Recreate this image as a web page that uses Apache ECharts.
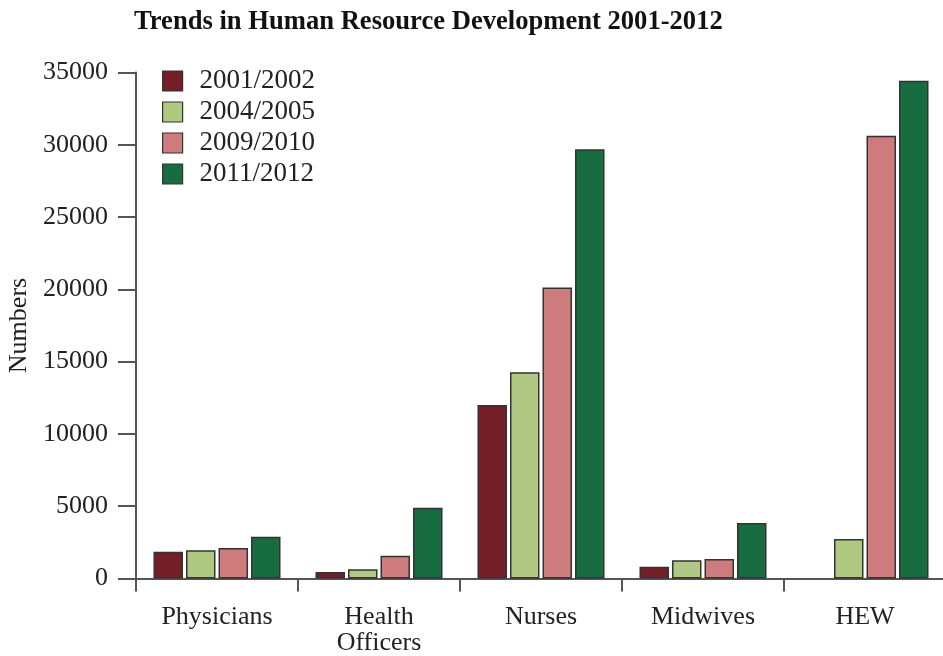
<!DOCTYPE html>
<html>
<head>
<meta charset="utf-8">
<script src="https://cdn.jsdelivr.net/npm/echarts@6/dist/echarts.min.js"></script>
<style>html,body{margin:0;padding:0;background:#fff}#c{width:943px;height:656px}</style>
</head>
<body>
<div id="c"></div>
<script>
const categories = ['Physicians', 'Health\nOfficers', 'Nurses', 'Midwives', 'HEW'];
const seriesNames = ['2001/2002', '2004/2005', '2009/2010', '2011/2012'];
const v2001 = [1850, 450, 12000, 820, null];
const v2004 = [1950, 640, 14260, 1260, 2730];
const v2009 = [2110, 1580, 20120, 1350, 30630];
const v2011 = [2890, 4900, 29690, 3840, 34430];
const yTicks = [0, 5000, 10000, 15000, 20000, 25000, 30000, 35000];
const colors = ['#741f28', '#afc982', '#cd7b7c', '#176c40'];

const FONT = "'Liberation Serif', 'DejaVu Serif', serif";
const values = [v2001, v2004, v2009, v2011];

const chart = echarts.init(document.getElementById('c'), null, {renderer: 'canvas'});
chart.setOption({
  animation: false,
  backgroundColor: '#ffffff',
  title: {
    text: 'Trends in Human Resource Development 2001-2012',
    left: 129, top: 4,
    textStyle: {fontFamily: FONT, fontWeight: 'bold', fontSize: 26.6, color: '#111'}
  },
  legend: {
    orient: 'vertical', left: 162, top: 67.5, padding: 0,
    itemWidth: 20, itemHeight: 20, itemGap: 4,
    icon: 'rect',
    itemStyle: {borderColor: '#333', borderWidth: 1.2},
    textStyle: {fontFamily: FONT, fontSize: 27, color: '#222', padding: [0, 0, 0, 12]},
    data: seriesNames
  },
  grid: {left: 136, top: 72.5, width: 810, height: 506, outerBoundsMode: 'none', containLabel: false},
  xAxis: {
    type: 'category',
    data: categories,
    axisLine: {lineStyle: {color: '#555', width: 2}},
    axisTick: {show: true, length: 13, lineStyle: {color: '#555', width: 2}},
    axisLabel: {fontFamily: FONT, fontSize: 26, color: '#222', margin: 26, lineHeight: 26, interval: 0}
  },
  yAxis: {
    type: 'value', min: 0, max: 35000, interval: 5000,
    name: 'Numbers', nameLocation: 'middle', nameGap: 100, nameRotate: 90,
    nameTextStyle: {fontFamily: FONT, fontSize: 26, color: '#222'},
    axisLine: {show: true, lineStyle: {color: '#555', width: 2}},
    axisTick: {show: true, length: 18, lineStyle: {color: '#555', width: 2}},
    axisLabel: {fontFamily: FONT, fontSize: 26, color: '#222', margin: 28,
      formatter: v => yTicks.includes(v) ? String(v) : ''},
    splitLine: {show: false}
  },
  series: seriesNames.map((n, i) => ({
    name: n, type: 'bar', data: values[i],
    barWidth: 29.5, barGap: '10.2%',
    itemStyle: {color: colors[i], borderColor: '#333', borderWidth: 1.5}
  }))
});
</script>
</body>
</html>
